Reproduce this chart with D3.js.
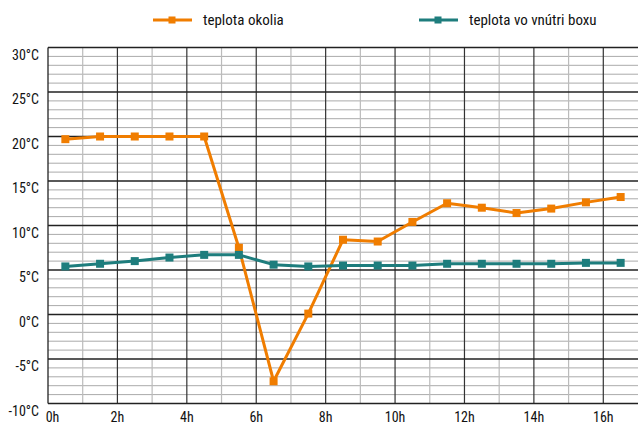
<!DOCTYPE html>
<html><head><meta charset="utf-8">
<script src="https://cdn.jsdelivr.net/npm/d3@7"></script>
<style>
body{margin:0;background:#fff;}
svg{display:block;font-family:"Liberation Sans Narrow","Roboto Condensed","Arial Narrow","DejaVu Sans Condensed",sans-serif;}
</style></head><body>
<svg id="c" width="638" height="424"></svg>
<script>
const hours = [0.5,1.5,2.5,3.5,4.5,5.5,6.5,7.5,8.5,9.5,10.5,11.5,12.5,13.5,14.5,15.5,16.5];
const outside = [19.7,20.0,20.0,20.0,20.0,7.5,-7.5,0.1,8.4,8.2,10.4,12.5,12.0,11.4,11.9,12.6,13.2];
const inside = [5.4,5.7,6.0,6.4,6.7,6.7,5.6,5.4,5.5,5.5,5.5,5.7,5.7,5.7,5.7,5.8,5.8];
const seriesNames = ["teplota okolia","teplota vo vnútri boxu"];
const yTicks = [-10,-5,0,5,10,15,20,25,30];
const xTicks = [0,2,4,6,8,10,12,14,16];

const colors = ["#f07d00","#1e7d7d"];
const svg = d3.select("#c");
const x = d3.scaleLinear().domain([0,17]).range([48,638]);
const y = d3.scaleLinear().domain([-10,30]).range([403.5,47.5]);

const g = svg.append("g");
// minor horizontal
g.selectAll("line.hmin").data(d3.range(-10,31).filter(v=>v%5!==0)).enter().append("line")
  .attr("x1",x(0)).attr("x2",x(17)).attr("y1",d=>y(d)).attr("y2",d=>y(d))
  .attr("stroke","#aaa").attr("stroke-width",1);
// odd vertical
g.selectAll("line.vodd").data(d3.range(1,17,2)).enter().append("line")
  .attr("x1",d=>x(d)).attr("x2",d=>x(d)).attr("y1",y(30)).attr("y2",y(-10))
  .attr("stroke","#bbb").attr("stroke-width",1.2);
// even vertical
g.selectAll("line.veven").data(d3.range(2,17,2)).enter().append("line")
  .attr("x1",d=>x(d)).attr("x2",d=>x(d)).attr("y1",y(30)).attr("y2",y(-10))
  .attr("stroke","#333").attr("stroke-width",1.2);
// major horizontal
g.selectAll("line.hmaj").data(yTicks).enter().append("line")
  .attr("x1",x(0)).attr("x2",x(17)).attr("y1",d=>y(d)).attr("y2",d=>y(d))
  .attr("stroke","#222").attr("stroke-width",1.3);
// left axis
g.append("line").attr("x1",x(0)).attr("x2",x(0)).attr("y1",y(30)).attr("y2",y(-10))
  .attr("stroke","#222").attr("stroke-width",1.3);

// y labels
svg.selectAll("text.yl").data(yTicks).enter().append("text")
  .attr("x",39).attr("y",d=>y(d)+12).attr("text-anchor","end")
  .attr("font-size",14).attr("fill","#111").text(d=>d+"°C");
// x labels
svg.selectAll("text.xl").data(xTicks).enter().append("text")
  .attr("x",d=>d===0?x(d)+4.5:x(d)).attr("y",422).attr("text-anchor","middle")
  .attr("font-size",14).attr("fill","#111").text(d=>d+"h");

const line = d3.line().x(d=>x(d[0])).y(d=>y(d[1]));
[outside, inside].forEach((vals,i)=>{
  const pts = hours.map((h,j)=>[h,vals[j]]);
  svg.append("path").datum(pts).attr("d",line).attr("fill","none")
    .attr("stroke",colors[i]).attr("stroke-width",3).attr("stroke-linejoin","round");
  svg.selectAll("rect.m"+i).data(pts).enter().append("rect")
    .attr("x",d=>x(d[0])-4).attr("y",d=>y(d[1])-4).attr("width",8).attr("height",8)
    .attr("fill",colors[i]);
});

// legend
const legX = [153, 419];
seriesNames.forEach((n,i)=>{
  const lg = svg.append("g");
  lg.append("line").attr("x1",legX[i]).attr("x2",legX[i]+39).attr("y1",20).attr("y2",20)
    .attr("stroke",colors[i]).attr("stroke-width",3);
  lg.append("rect").attr("x",legX[i]+15.5).attr("y",16.5).attr("width",7).attr("height",7).attr("fill",colors[i]);
  lg.append("text").attr("x",legX[i]+50).attr("y",25).attr("font-size",15).attr("fill","#111").text(n);
});
</script></body></html>
